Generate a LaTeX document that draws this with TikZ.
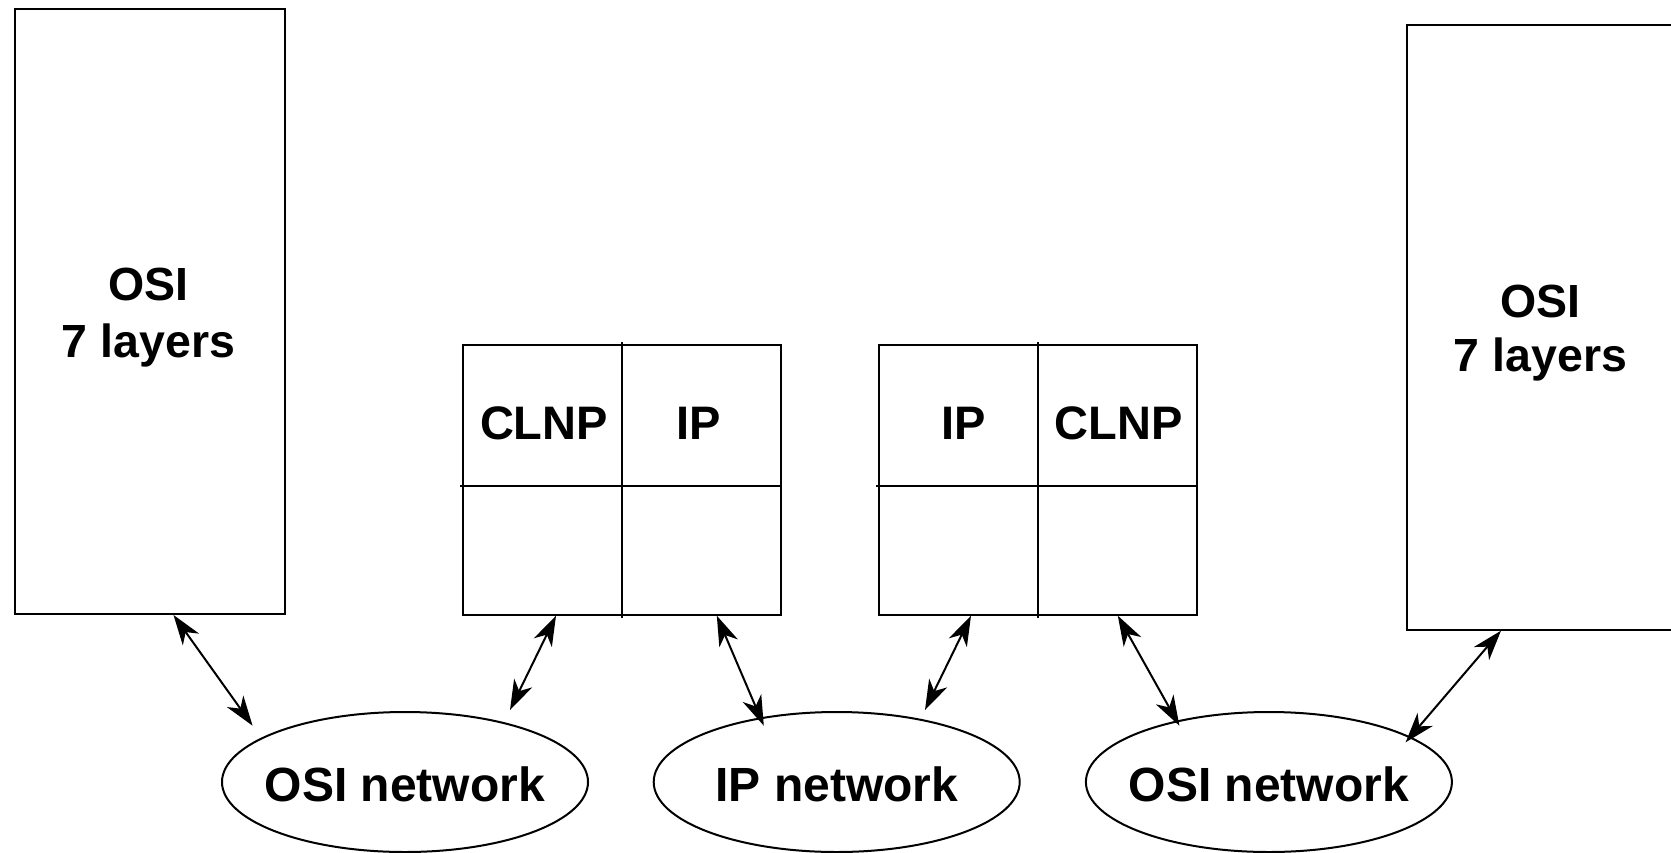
\documentclass[tikz,border=0pt]{standalone}
\usepackage{fontspec}
\setmainfont{Liberation Sans}
\usetikzlibrary{arrows.meta,shapes.geometric,calc}

\begin{document}
\begin{tikzpicture}[x=1pt,y=-1pt,
  box/.style={draw, line width=2pt, rectangle, inner sep=0pt, anchor=north west},
  net/.style={draw, line width=2pt, ellipse, minimum width=366pt, minimum height=140pt, inner sep=0pt},
  stacklbl/.style={anchor=base, inner sep=0pt, font=\fontsize{46.5}{46.5}\selectfont\bfseries},
  celllbl/.style={anchor=base, inner sep=0pt, font=\fontsize{47}{47}\selectfont\bfseries},
  netlbl/.style={anchor=base, inner sep=0pt, font=\fontsize{48}{48}\selectfont\bfseries},
  tip/.tip={Stealth[length=30pt,width=20pt,inset=9pt]},
  link/.style={line width=2pt, tip-tip},
  divider/.style={line width=1.7pt}
]
% page area
\useasboundingbox (0,0) rectangle (1671,852);
\fill[white] (0,0) rectangle (1671,852);
\clip (0,0) rectangle (1671,852);

% end systems
\node[box, minimum width=269.4pt, minimum height=604.7pt] (lsys) at (14.3,8.3) {};
\node[box, minimum width=270pt, minimum height=605.3pt] (rsys) at (1406,24) {};
\node[stacklbl] (lsysa) at (148.5,300) {OSI};
\node[stacklbl] (lsysb) at (148.5,357.3) {7 layers};
\node[stacklbl] (rsysa) at (1540.5,317) {OSI};
\node[stacklbl] (rsysb) at (1540.5,371) {7 layers};

% gateways
\node[box, minimum width=318pt, minimum height=269.7pt] (gw1) at (462,344) {};
\node[box, minimum width=318pt, minimum height=269.7pt] (gw2) at (878,344) {};
\draw[divider] ([yshift=2pt]gw1.north) -- ([yshift=-2pt]gw1.south);
\draw[divider] (460,486.3) -- (782,486.3);
\draw[divider] ([yshift=2pt]gw2.north) -- ([yshift=-2pt]gw2.south);
\draw[divider] (876,486.3) -- (1198,486.3);
\node[celllbl] (gw1a) at (544,439.3) {CLNP};
\node[celllbl] (gw1b) at (699,439.3) {IP};
\node[celllbl] (gw2a) at (963.6,439.3) {IP};
\node[celllbl] (gw2b) at (1118.4,439.3) {CLNP};

% networks
\node[net] (n1) at (405,782) {};
\node[net] (n2) at (836.7,782) {};
\node[net] (n3) at (1268.9,782) {};
\node[netlbl] (n1l) at (405,801.7) {OSI network};
\node[netlbl] (n2l) at (836.7,801.7) {IP network};
\node[netlbl] (n3l) at (1268.9,801.7) {OSI network};

% link end points
\coordinate (l1) at ([xshift=159.2pt]lsys.south west);
\coordinate (g1a) at ([xshift=94pt]gw1.south west);
\coordinate (g1b) at ([xshift=254.8pt]gw1.south west);
\coordinate (g2a) at ([xshift=93pt]gw2.south west);
\coordinate (g2b) at ([xshift=239.8pt]gw2.south west);
\coordinate (r1) at (1501,630.7);
\coordinate (n1a) at (252.6,725.7);
\coordinate (n1b) at (510,710);
\coordinate (n2a) at (763.8,725.7);
\coordinate (n2b) at (925,710);
\coordinate (n3a) at (1179.4,725.7);
\coordinate (n3b) at (1405.6,742.3);

% links
\draw[link] (l1) -- (n1a);
\draw[link] (g1a) -- (n1b);
\draw[link] (g1b) -- (n2a);
\draw[link] (g2a) -- (n2b);
\draw[link] (g2b) -- (n3a);
\draw[link] (r1) -- (n3b);
\end{tikzpicture}
\end{document}
